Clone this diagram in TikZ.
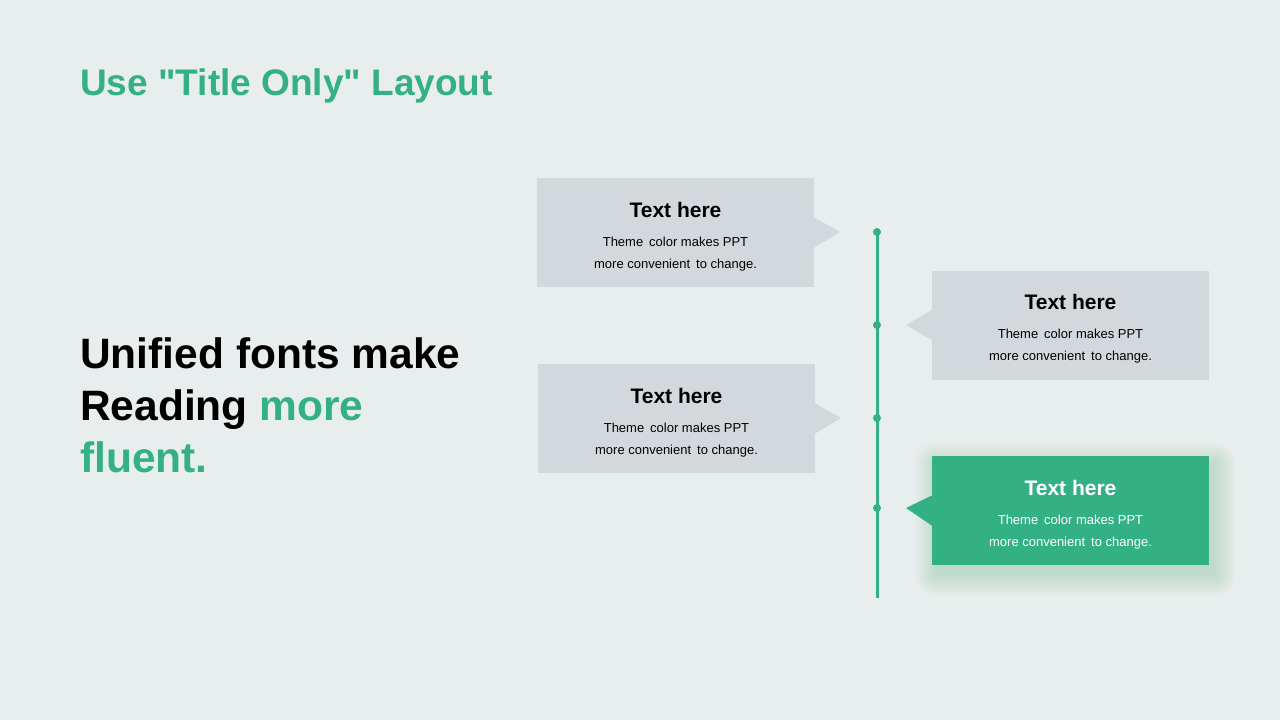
\documentclass[tikz,border=0pt]{standalone}
\usepackage{fontspec}
\setmainfont{Liberation Sans}[Ligatures=TeXOff]
\usetikzlibrary{positioning,calc}
\definecolor{paper}{HTML}{E8EEEE}
\definecolor{brand}{HTML}{33B084}
\definecolor{card}{HTML}{D3D8DC}
\definecolor{ink}{HTML}{111111}
\newcommand{\gap}{\hspace{0.18em}}

\begin{document}
\begin{tikzpicture}[x=1pt, y=-1pt,
      cardbox/.style={fill=card, minimum width=277pt, minimum height=109pt, inner sep=0pt},
      greenbox/.style={cardbox, fill=brand},
      head/.style={font=\fontsize{21}{25}\selectfont\bfseries, anchor=base, inner sep=0pt},
      body/.style={font=\fontsize{13}{22}\selectfont, align=center, inner sep=0pt},
      dot/.style={circle, fill=brand, inner sep=0pt, minimum size=8pt}]
    % background and margins
    \fill[paper] (0,0) rectangle (1280,720);
    \useasboundingbox (0,0) rectangle (1280,720);

    % title and lead text
    \node[anchor=base west, inner sep=0pt, text=brand, font=\fontsize{37}{44}\selectfont\bfseries]
        (title) at (80,95) {Use "Title Only" Layout};
    \node[anchor=north west, inner sep=0pt, align=left, text=black,
          font=\fontsize{42.5}{52}\selectfont\bfseries] (lead) at (80,337)
        {Unified fonts make\\ Reading {\color{brand}more}\\ {\color{brand}fluent.}};

    % timeline
    \node[dot] (d1) at (877,232) {};
    \node[dot] (d2) at (877,325) {};
    \node[dot] (d3) at (877,418) {};
    \node[dot] (d4) at (877,508) {};
    \coordinate (tlend) at (877,598);
    \draw[brand, line width=3pt] (d1.center) -- (tlend);

    % soft shadow of the highlighted card
    \foreach \i in {1,...,20}
      \fill[brand!50!gray, opacity=0.01, rounded corners=\i pt]
        (932-\i*1.1+5, 456-\i*1.1+9) rectangle (1209+\i*1.1+5, 565+\i*1.1+9);

    % cards
    \node[cardbox] (c1) at (675.5,232.5) {};
    \node[cardbox] (c2) at (1070.5,325) {};
    \node[cardbox] (c3) at (676.5,418.5) {};
    \node[greenbox] (c4) at (1070.5,510.5) {};

    % pointers
    \fill[card] ($(c1.east)+(0,-15)$) -- ($(d1)+(-37,0)$) -- ($(c1.east)+(0,15)$) -- cycle;
    \fill[card] ($(c2.west)+(0,-15)$) -- ($(d2)+(29,0)$) -- ($(c2.west)+(0,15)$) -- cycle;
    \fill[card] ($(c3.east)+(0,-15)$) -- ($(d3)+(-36,0)$) -- ($(c3.east)+(0,15)$) -- cycle;
    \fill[brand] ($(c4.west)+(0,-15)$) -- ($(d4)+(29,0)$) -- ($(c4.west)+(0,15)$) -- cycle;

    % card texts
    \foreach \c/\col in {c1/black, c2/black, c3/black, c4/white} {
      \node[head, text=\col] (\c-head) at ($(\c.north)+(0,39.5)$) {Text here};
      \node[body, text=\col] (\c-body) at ($(\c.north)+(0,76)$)
          {Theme\gap{} color makes PPT\\ more convenient\gap{} to change.};
    }
  \end{tikzpicture}
\end{document}
